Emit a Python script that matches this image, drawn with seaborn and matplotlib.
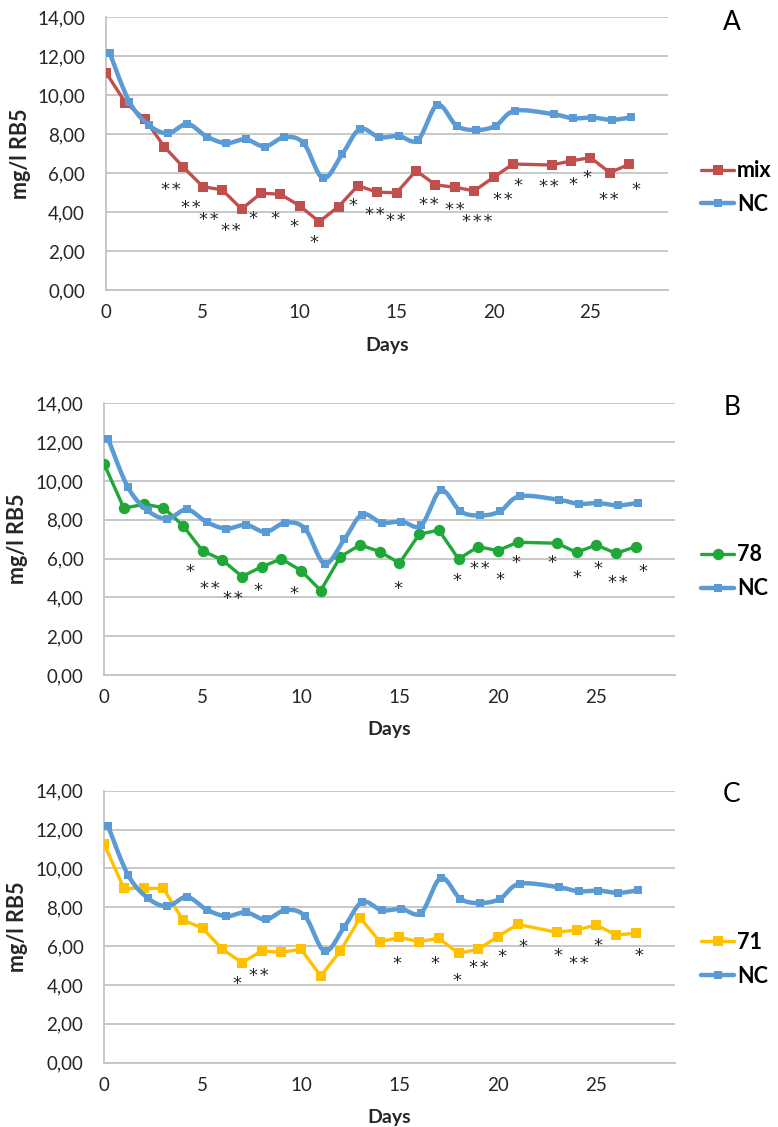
import numpy as np
import matplotlib
matplotlib.use("Agg")
import matplotlib.pyplot as plt
import seaborn as sns
from matplotlib.lines import Line2D
from matplotlib.ticker import FuncFormatter

# ---- data -------------------------------------------------------------
days_nc = [0.2, 1.2, 2.2, 3.2, 4.2, 5.2, 6.2, 7.2, 8.2, 9.2, 10.2, 11.2, 12.2, 13.1,
           14.1, 15.1, 16.1, 17.1, 18.1, 19.1, 20.1, 21.1, 23.1, 24.1, 25.1, 26.1, 27.1]
nc_vals = [12.16, 9.68, 8.48, 8.05, 8.53, 7.88, 7.54, 7.74, 7.37, 7.85, 7.54, 5.74, 6.99, 8.27,
           7.85, 7.91, 7.71, 9.51, 8.43, 8.22, 8.43, 9.21, 9.03, 8.82, 8.86, 8.74, 8.87]

days_trt = [0, 1, 2, 3, 4, 5, 6, 7, 8, 9, 10, 11, 12, 13, 14, 15, 16, 17, 18, 19, 20, 21,
            23, 24, 25, 26, 27]
mix_vals = [11.17, 9.63, 8.79, 7.37, 6.30, 5.31, 5.14, 4.16, 4.97, 4.92, 4.32, 3.51, 4.28, 5.36,
            5.02, 5.00, 6.13, 5.40, 5.28, 5.09, 5.79, 6.47, 6.42, 6.63, 6.80, 6.03, 6.46]
s78_vals = [10.86, 8.59, 8.80, 8.63, 7.70, 6.39, 5.93, 5.07, 5.58, 5.98, 5.38, 4.35, 6.10, 6.70,
            6.36, 5.76, 7.25, 7.47, 5.98, 6.61, 6.41, 6.84, 6.79, 6.32, 6.70, 6.27, 6.61]
s71_vals = [11.24, 8.97, 8.97, 8.97, 7.34, 6.92, 5.84, 5.15, 5.75, 5.68, 5.84, 4.46, 5.75, 7.46,
            6.23, 6.45, 6.23, 6.40, 5.63, 5.84, 6.49, 7.12, 6.71, 6.83, 7.09, 6.57, 6.66]

# significance marks (day, level, label)
stars_mix_x = [3.36, 4.36, 5.33, 6.44, 7.59, 8.72, 9.69, 10.72, 12.73, 13.85, 14.95, 16.67,
               17.98, 19.18, 20.46, 21.27, 22.85, 24.1, 24.8, 25.96, 27.33]
stars_mix_y = [5.45, 4.51, 3.89, 3.31, 3.94, 3.94, 3.51, 2.69, 4.62, 4.15, 3.85, 4.68,
               4.42, 3.80, 4.92, 5.65, 5.57, 5.70, 6.03, 4.93, 5.43]
stars_mix_t = ["**", "**", "**", "**", "*", "*", "*", "*", "*", "**", "**", "**",
               "**", "***", "**", "*", "**", "*", "*", "**", "*"]

stars_78_x = [4.38, 5.36, 6.54, 7.81, 9.62, 14.91, 17.92, 19.1, 20.1, 20.94, 22.74, 24.04,
              25.09, 26.12, 27.38]
stars_78_y = [5.58, 4.73, 4.21, 4.64, 4.47, 4.73, 5.15, 5.76, 5.19, 6.07, 6.07, 5.27,
              5.76, 5.04, 5.58]
stars_78_t = ["*", "**", "**", "*", "*", "*", "*", "**", "*", "*", "*", "*", "*", "**", "*"]

stars_71_x = [6.72, 7.87, 14.87, 16.79, 17.94, 19.02, 20.22, 21.27, 23.05, 24.11, 25.08, 27.16]
stars_71_y = [4.34, 4.77, 5.37, 5.37, 4.51, 5.15, 5.71, 6.26, 5.76, 5.37, 6.28, 5.76]
stars_71_t = ["*", "**", "*", "*", "*", "**", "*", "*", "*", "**", "*", "*"]

panel_letters = ["A", "B", "C"]
series_labels = ["mix", "78", "71"]
nc_label = "NC"
y_ticks = [0, 2, 4, 6, 8, 10, 12, 14]
x_ticks = [0, 5, 10, 15, 20, 25]

# ---- style ------------------------------------------------------------
NC_COLOR = "#5B9BD5"
COLORS = ["#C0504D", "#1FA838", "#FFC000"]
MARKERS = ["s", "o", "s"]
MSIZES = [7.4, 8.2, 7.4]
GRID = "#C4C4C4"
TEXT = "#262626"
STAR_SIZE = 13

sns.set_theme(style="white")
plt.rcParams["font.family"] = ["Lato", "DejaVu Sans"]

fig = plt.figure(figsize=(7.78, 11.27), dpi=100)

rects = [
    [0.1362, 0.7427, 0.7224, 0.2418],
    [0.1340, 0.4011, 0.7336, 0.2410],
    [0.1340, 0.0571, 0.7336, 0.2413],
]
legend_y = [0.8336, 0.4927, 0.1490]
letter_y = [0.9796, 0.6380, 0.2946]


def smooth_curve(x, y, n=20):
    """Bezier smoothing through every point (control points from neighbours)."""
    P = np.column_stack([np.asarray(x, float), np.asarray(y, float)])
    P = np.vstack([P[0], P, P[-1]])
    segs = []
    t = np.linspace(0, 1, n, endpoint=False)[:, None]
    for i in range(1, len(P) - 2):
        p0, p1, p2, p3 = P[i - 1], P[i], P[i + 1], P[i + 2]
        c1 = p1 + (p2 - p0) / 6.0
        c2 = p2 - (p3 - p1) / 6.0
        segs.append((1 - t) ** 3 * p1 + 3 * (1 - t) ** 2 * t * c1
                    + 3 * (1 - t) * t ** 2 * c2 + t ** 3 * p2)
    segs.append(P[-2][None, :])
    return np.vstack(segs)


trt_series = [mix_vals, s78_vals, s71_vals]
star_sets = [(stars_mix_x, stars_mix_y, stars_mix_t),
             (stars_78_x, stars_78_y, stars_78_t),
             (stars_71_x, stars_71_y, stars_71_t)]

for k in range(3):
    ax = fig.add_axes(rects[k])
    col = COLORS[k]

    # treatment series
    sns.lineplot(x=days_trt, y=trt_series[k], ax=ax, color=col, lw=2.4,
                 marker=MARKERS[k], markersize=MSIZES[k], markeredgewidth=0,
                 sort=False, estimator=None, zorder=3)

    # negative control: smoothed line plus markers
    curve = smooth_curve(days_nc, nc_vals)
    sns.lineplot(x=curve[:, 0], y=curve[:, 1], ax=ax, color=NC_COLOR, lw=3.2,
                 sort=False, estimator=None, zorder=4)
    sns.lineplot(x=days_nc, y=nc_vals, ax=ax, color=NC_COLOR, lw=0,
                 marker="s", markersize=6.3, markeredgewidth=0,
                 sort=False, estimator=None, zorder=4)

    # significance marks (stars separated by a hair space)
    sx, sy, st = star_sets[k]
    for xv, yv, tv in zip(sx, sy, st):
        ax.annotate("\u200a".join(tv), (xv, yv), xytext=(0, -0.59 * STAR_SIZE),
                    textcoords="offset points", ha="center", va="baseline",
                    fontsize=STAR_SIZE, color=TEXT, family="DejaVu Sans", zorder=5)

    ax.set_xlim(0, 29)
    ax.set_ylim(0, 14)
    ax.set_xticks(x_ticks)
    ax.set_yticks(y_ticks)
    ax.yaxis.set_major_formatter(FuncFormatter(lambda v, p: f"{v:.2f}".replace(".", ",")))
    ax.tick_params(axis="both", length=0, labelsize=13.5, colors=TEXT)
    ax.tick_params(axis="x", pad=10)
    ax.tick_params(axis="y", pad=15)

    ax.grid(axis="y", color=GRID, lw=1.3)
    ax.grid(axis="x", visible=False)
    for side in ["top", "right"]:
        ax.spines[side].set_visible(False)
    for side in ["left", "bottom"]:
        ax.spines[side].set_color(GRID)
        ax.spines[side].set_linewidth(1.3)

    ax.set_xlabel("Days", fontsize=14, fontweight="bold", color=TEXT, va="center")
    ax.xaxis.set_label_coords(0.5, -0.202)
    ax.set_ylabel("mg/l RB5", fontsize=15.5, fontweight="bold", color=TEXT, va="center")
    ax.yaxis.set_label_coords(-0.152, 0.5)

    handles = [
        Line2D([], [], color=col, lw=2.4, marker=MARKERS[k], markersize=MSIZES[k],
               markeredgewidth=0),
        Line2D([], [], color=NC_COLOR, lw=3.2, marker="s", markersize=6.3,
               markeredgewidth=0),
    ]
    leg = fig.legend(handles, [series_labels[k], nc_label], loc="center left",
                     bbox_to_anchor=(0.901, legend_y[k]), frameon=False,
                     borderpad=0, borderaxespad=0, handlelength=1.55,
                     handletextpad=0.12, labelspacing=0.6,
                     prop={"size": 15.5, "weight": "bold"})
    for t in leg.get_texts():
        t.set_color("black")

    fig.text(0.9405, letter_y[k], panel_letters[k], fontsize=19, color="black",
             ha="center", va="center")

fig.savefig("out.png", dpi=100)
